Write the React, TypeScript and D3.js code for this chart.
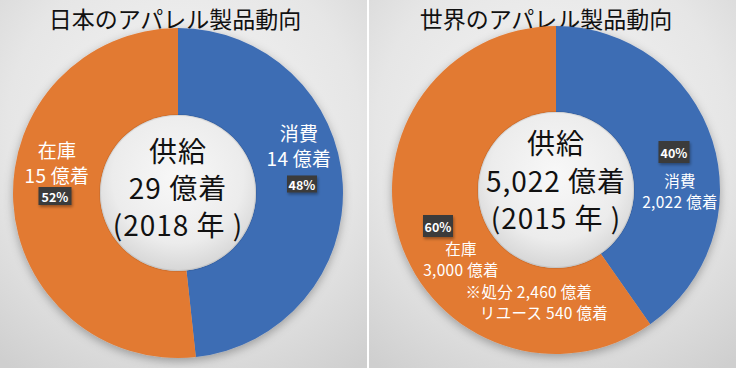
import React from "react";
import * as d3 from "d3";

// data
const sliceNames = ["消費", "在庫"];
const japanValues = [14, 15];
const japanPercents = ["48%", "52%"];
const worldValues = [2022, 3000];
const worldPercents = ["40%", "60%"];
const titles = ["日本のアパレル製品動向", "世界のアパレル製品動向"];
const centerLines = [
  ["供給", "29 億着", "(2018 年 )"],
  ["供給", "5,022 億着", "(2015 年 )"],
];
const japanLabels = [["消費", "14 億着"], ["在庫", "15 億着"]];
const worldLabels = [["消費", "2,022 億着"], ["在庫", "3,000 億着", "", "※処分 2,460 億着", "リユース 540 億着"]];

const W = 736, H = 368;
const colors = ["#3e6db4", "#e27a33"];
const FONT = "'Noto Sans CJK JP', 'Noto Sans', sans-serif";

// layout (not data)
const panels = [
  {
    x0: 0, w: 367, cx: 178, cy: 193, r: 165, ir: 78, titleX: 175,
    values: japanValues, percents: japanPercents, labels: japanLabels,
    center: [150, 187, 224], centerSize: 28, labelSize: 19, lineH: 25,
    labelPos: [[299, 132], [57, 149]],
    boxPos: [[302, 184, 30, 17], [55, 196, 33, 18]],
  },
  {
    x0: 369, w: 367, cx: 556, cy: 190, r: 164, ir: 78, titleX: 546,
    values: worldValues, percents: worldPercents, labels: worldLabels,
    center: [142, 180, 217], centerSize: 28, labelSize: 15.5, lineH: 21,
    labelPos: [[680, 180], [461, 247.5]],
    boxPos: [[674, 152, 31, 22], [438, 226, 30, 22]],
  },
];

function Panel({ p, i }: { p: any; i: number }) {
  const pie = d3.pie<number>().sort(null).value(d => d)(p.values);
  const arc = d3.arc<d3.PieArcDatum<number>>().innerRadius(p.ir).outerRadius(p.r);
  return (
    <g>
      <rect x={p.x0} y={0} width={p.w} height={H} fill={`url(#bg${i})`} />
      <text x={p.titleX} y={18} fontSize={23} textAnchor="middle" dominantBaseline="central" fill="#111" fontFamily={FONT}>{titles[i]}</text>
      <g transform={`translate(${p.cx},${p.cy})`} filter="url(#shadow)">
        {pie.map((d, k) => (
          <path key={sliceNames[k]} d={arc(d) || ""} fill={colors[k]} />
        ))}
      </g>
      <circle cx={p.cx} cy={p.cy} r={p.ir} fill="url(#hole)" />
      <circle cx={p.cx} cy={p.cy} r={p.ir} fill="none" stroke="rgba(0,0,0,0.08)" strokeWidth={2} />
      {centerLines[i].map((t, k) => (
        <text key={k} x={p.cx} y={p.center[k]} fontSize={p.centerSize} letterSpacing={1} textAnchor="middle" dominantBaseline="central" fill="#111" fontFamily={FONT}>{t}</text>
      ))}
      {p.labels.map((lines: string[], k: number) => {
        const [lx, ly] = p.labelPos[k];
        return (
          <g key={k}>
            {lines.map((t, j) => {
              if (!t) return null;
              // the footnote lines are shifted right
              const dx = j === 3 ? 68 : j === 4 ? 83 : 0;
              const dy = j >= 3 ? j * p.lineH - 20 : j * p.lineH;
              return (
                <text key={j} x={lx + dx} y={ly + dy} fontSize={p.labelSize} letterSpacing={0.3} textAnchor="middle" dominantBaseline="central" fill="#fff" fontFamily={FONT}>{t}</text>
              );
            })}
          </g>
        );
      })}
      {p.percents.map((t: string, k: number) => {
        const [bx, by, bw, bh] = p.boxPos[k];
        return (
          <g key={t}>
            <rect x={bx - bw / 2} y={by - bh / 2} width={bw} height={bh} fill="#3b3b3b" filter="url(#boxShadow)" />
            <text x={bx} y={by} fontSize={12.5} fontWeight="bold" textAnchor="middle" dominantBaseline="central" fill="#fff" fontFamily={FONT}>{t}</text>
          </g>
        );
      })}
    </g>
  );
}

export default function App() {
  return (
    <svg width={W} height={H} style={{ position: "fixed", left: 0, top: 0 }}>
      <defs>
        {[0, 1].map(i => (
          <radialGradient key={i} id={`bg${i}`} cx="50%" cy="35%" r="80%">
            <stop offset="0%" stopColor="#f5f5f5" />
            <stop offset="60%" stopColor="#e6e6e6" />
            <stop offset="100%" stopColor="#cfcfcf" />
          </radialGradient>
        ))}
        <radialGradient id="hole" cx="50%" cy="40%" r="60%">
          <stop offset="0%" stopColor="#f8f8f8" />
          <stop offset="70%" stopColor="#ececec" />
          <stop offset="100%" stopColor="#d6d6d6" />
        </radialGradient>
        <filter id="shadow" x="-20%" y="-20%" width="140%" height="140%">
          <feDropShadow dx={0} dy={3} stdDeviation={5} floodColor="#000" floodOpacity={0.3} />
        </filter>
        <filter id="boxShadow" x="-30%" y="-30%" width="160%" height="160%">
          <feDropShadow dx={1} dy={2} stdDeviation={1.5} floodColor="#000" floodOpacity={0.35} />
        </filter>
      </defs>
      <rect x={0} y={0} width={W} height={H} fill="#fff" />
      {panels.map((p, i) => <Panel key={i} p={p} i={i} />)}
    </svg>
  );
}
